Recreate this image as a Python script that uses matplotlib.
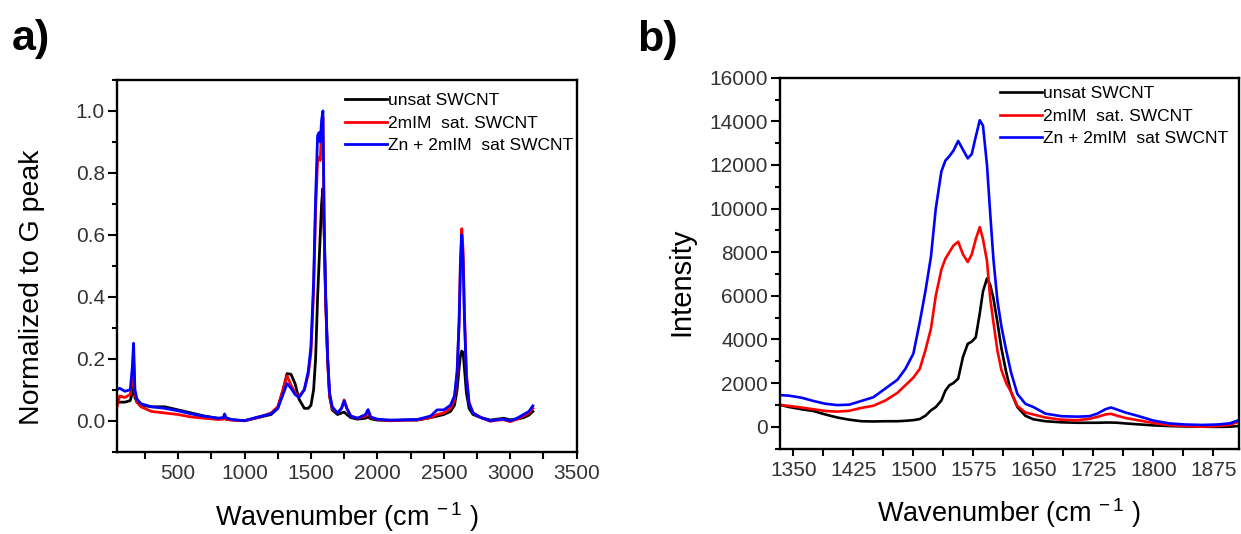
import matplotlib
matplotlib.use("Agg")
import matplotlib.pyplot as plt
from matplotlib.ticker import MultipleLocator

plt.rcParams['font.family'] = ['Liberation Sans', 'DejaVu Sans']
plt.rcParams['mathtext.default'] = 'regular'

# ---------------- Panel a data (normalized to G peak) ----------------
wn_a = [40, 60, 100, 140, 155, 165, 175, 190, 220, 300, 400, 500, 600, 700, 800, 840, 850, 860,
        900, 1000, 1100, 1200, 1250, 1290, 1320, 1350, 1380, 1410, 1450, 1480, 1500, 1520, 1535,
        1550, 1560, 1570, 1580, 1590, 1600, 1610, 1625, 1640, 1660, 1700, 1730, 1750, 1770, 1800,
        1850, 1910, 1930, 1950, 2000, 2100, 2200, 2300, 2400, 2450, 2500, 2550, 2580, 2600, 2615,
        2625, 2635, 2645, 2655, 2670, 2690, 2720, 2780, 2850, 2900, 2950, 3000, 3050, 3100, 3140, 3170]

unsat_a = [0.058, 0.06, 0.06, 0.065, 0.09, 0.115, 0.075, 0.06, 0.05, 0.045, 0.045, 0.035, 0.025, 0.015,
           0.008, 0.008, 0.01, 0.008, 0.003, 0.0, 0.01, 0.02, 0.04, 0.1, 0.152, 0.15, 0.12, 0.07, 0.04,
           0.04, 0.05, 0.1, 0.2, 0.4, 0.5, 0.6, 0.7, 0.75, 0.6, 0.4, 0.2, 0.08, 0.035, 0.02, 0.025,
           0.028, 0.02, 0.01, 0.005, 0.008, 0.012, 0.006, 0.002, 0.0, 0.002, 0.002, 0.01, 0.015, 0.02,
           0.03, 0.05, 0.1, 0.17, 0.21, 0.225, 0.22, 0.17, 0.09, 0.04, 0.02, 0.01, 0.002, 0.005, 0.008,
           0.003, 0.005, 0.01, 0.018, 0.03]

mim_a = [0.045, 0.08, 0.075, 0.085, 0.13, 0.2, 0.09, 0.06, 0.045, 0.03, 0.025, 0.02, 0.012, 0.008,
         0.004, 0.005, 0.008, 0.004, 0.002, 0.0, 0.01, 0.025, 0.045, 0.1, 0.145, 0.115, 0.09, 0.078,
         0.1, 0.15, 0.22, 0.42, 0.68, 0.84, 0.85, 0.84, 0.94, 0.98, 0.6, 0.4, 0.2, 0.08, 0.04, 0.025,
         0.04, 0.067, 0.04, 0.015, 0.008, 0.015, 0.025, 0.01, 0.004, 0.0, 0.002, 0.003, 0.01, 0.02,
         0.025, 0.04, 0.07, 0.15, 0.32, 0.52, 0.62, 0.55, 0.35, 0.15, 0.06, 0.025, 0.01, -0.002, 0.002,
         0.003, -0.003, 0.005, 0.015, 0.025, 0.04]

zn_a = [0.1, 0.105, 0.095, 0.1, 0.17, 0.25, 0.1, 0.07, 0.055, 0.045, 0.04, 0.032, 0.022, 0.014, 0.008,
        0.01, 0.022, 0.01, 0.004, 0.0, 0.012, 0.022, 0.04, 0.085, 0.12, 0.105, 0.085, 0.075, 0.1, 0.16,
        0.24, 0.45, 0.72, 0.92, 0.93, 0.9, 0.97, 1.0, 0.62, 0.42, 0.21, 0.09, 0.045, 0.025, 0.04, 0.064,
        0.04, 0.015, 0.008, 0.02, 0.036, 0.012, 0.005, 0.002, 0.003, 0.004, 0.015, 0.035, 0.035, 0.05,
        0.08, 0.16, 0.32, 0.5, 0.6, 0.52, 0.33, 0.14, 0.055, 0.025, 0.01, 0.0, 0.003, 0.005, 0.0, 0.008,
        0.02, 0.03, 0.048]

# ---------------- Panel b data (intensity) ----------------
wn_b = [1333, 1345, 1360, 1375, 1390, 1405, 1420, 1435, 1450, 1465, 1480, 1490, 1500, 1508, 1515,
        1522, 1528, 1535, 1540, 1545, 1550, 1556, 1562, 1568, 1573, 1578, 1583, 1587, 1592, 1596,
        1600, 1605, 1610, 1616, 1622, 1630, 1640, 1650, 1665, 1685, 1705, 1720, 1730, 1740, 1747,
        1755, 1765, 1780, 1800, 1820, 1840, 1860, 1880, 1895, 1907]

unsat_b = [1000, 900, 800, 720, 560, 420, 320, 250, 240, 250, 250, 270, 300, 350, 500, 750, 900, 1200,
           1650, 1900, 2000, 2200, 3200, 3800, 3900, 4100, 5200, 6200, 6800, 6500, 5900, 4800, 3600,
           2500, 1600, 900, 500, 340, 250, 200, 180, 180, 180, 190, 190, 180, 150, 110, 60, 30, 10, 0,
           -10, 0, 30]

mim_b = [1000, 950, 880, 800, 720, 690, 730, 860, 960, 1200, 1550, 1900, 2250, 2650, 3500, 4500,
         6000, 7200, 7700, 8000, 8300, 8480, 7900, 7550, 7900, 8600, 9150, 8600, 7600, 5900, 4800,
         3500, 2600, 2000, 1600, 950, 650, 560, 420, 320, 300, 360, 450, 560, 590, 500, 400, 300, 170,
         70, 30, 0, 30, 80, 230]

zn_b = [1450, 1420, 1330, 1180, 1050, 990, 1010, 1180, 1350, 1750, 2150, 2650, 3350, 4800, 6200, 7800,
        10000, 11700, 12200, 12400, 12650, 13100, 12700, 12300, 12500, 13300, 14050, 13800, 12000,
        9800, 7700, 5800, 4600, 3500, 2500, 1500, 1050, 900, 600, 480, 460, 480, 600, 800, 880, 780,
        650, 500, 280, 150, 100, 80, 100, 150, 300]

labels = ['unsat SWCNT', '2mIM  sat. SWCNT', 'Zn + 2mIM  sat SWCNT']
colors = ['#000000', '#ff0000', '#0000ff']

W, H = 1241, 534
fig = plt.figure(figsize=(W / 100, H / 100), dpi=100)

def px_axes(l, r, t, b):
    return fig.add_axes([l / W, (H - b) / H, (r - l) / W, (b - t) / H])

ax1 = px_axes(116.7, 576.7, 80, 451.7)
ax2 = px_axes(780, 1239, 77.7, 448.5)

for y, c, lab in zip([unsat_a, mim_a, zn_a], colors, labels):
    ax1.plot(wn_a, y, color=c, lw=2.0, label=lab)
for y, c, lab in zip([unsat_b, mim_b, zn_b], colors, labels):
    ax2.plot(wn_b, y, color=c, lw=1.9, label=lab)

ax1.set_xlim(38, 3500)
ax1.set_ylim(-0.1, 1.1)
ax1.xaxis.set_minor_locator(MultipleLocator(250))
ax1.yaxis.set_minor_locator(MultipleLocator(0.1))
ax1.set_yticks([0.0, 0.2, 0.4, 0.6, 0.8, 1.0])
ax1.set_yticklabels(['0.0', '0.2', '0.4', '0.6', '0.8', '1.0'])
ax1.set_xticks([500, 1000, 1500, 2000, 2500, 3000, 3500])

ax2.set_xlim(1333.3, 1907)
ax2.set_ylim(-1000, 16000)
ax2.set_xticks([1350, 1425, 1500, 1575, 1650, 1725, 1800, 1875])
ax2.xaxis.set_minor_locator(MultipleLocator(37.5))
ax2.set_yticks(list(range(0, 16001, 2000)))
ax2.yaxis.set_minor_locator(MultipleLocator(1000))

for ax in (ax1, ax2):
    for s in ax.spines.values():
        s.set_linewidth(1.7)
    ax.tick_params(axis='both', which='both', direction='out', width=1.5, color='black',
                   labelcolor='#333333', labelsize=15)
    ax.tick_params(axis='y', which='major', length=6.5, pad=2)
    ax.tick_params(axis='y', which='minor', length=3.5)
    ax.tick_params(axis='x', which='major', length=5, pad=4)
    ax.tick_params(axis='x', which='minor', length=5)
    ax.set_xlabel('Wavenumber (cm$^{\\,-1}$ )', fontsize=19.5, labelpad=12)

ax1.set_ylabel('Normalized to G peak', fontsize=20.5)
ax2.set_ylabel('Intensity', fontsize=21)
for ax, xc, yc in ((ax1, (32 - 116.7) / 460, (451.7 - 287) / 371.7),
                   (ax2, (681 - 780) / 459, (448.5 - 282) / 370.8)):
    ax.yaxis.set_label_coords(xc, yc)
    ax.yaxis.label.set_va('center')
    ax.yaxis.label.set_ha('center')

leg_kw = dict(frameon=False, fontsize=12.5, handlelength=2.4, handletextpad=0.1,
              labelspacing=0.42, borderpad=0, borderaxespad=0, loc='upper left')
ax1.legend(bbox_to_anchor=((345 - 116.7) / 460, (451.7 - 93) / 371.7), **leg_kw)
ax2.legend(bbox_to_anchor=((1000 - 780) / 459, (448.5 - 86) / 370.8), **leg_kw)

fig.text(12 / W, 1 - 50 / H, 'a)', fontsize=31, fontweight='bold', va='baseline', ha='left')
fig.text(637 / W, 1 - 51 / H, 'b)', fontsize=31, fontweight='bold', va='baseline', ha='left')

fig.savefig('out.png', dpi=100)
